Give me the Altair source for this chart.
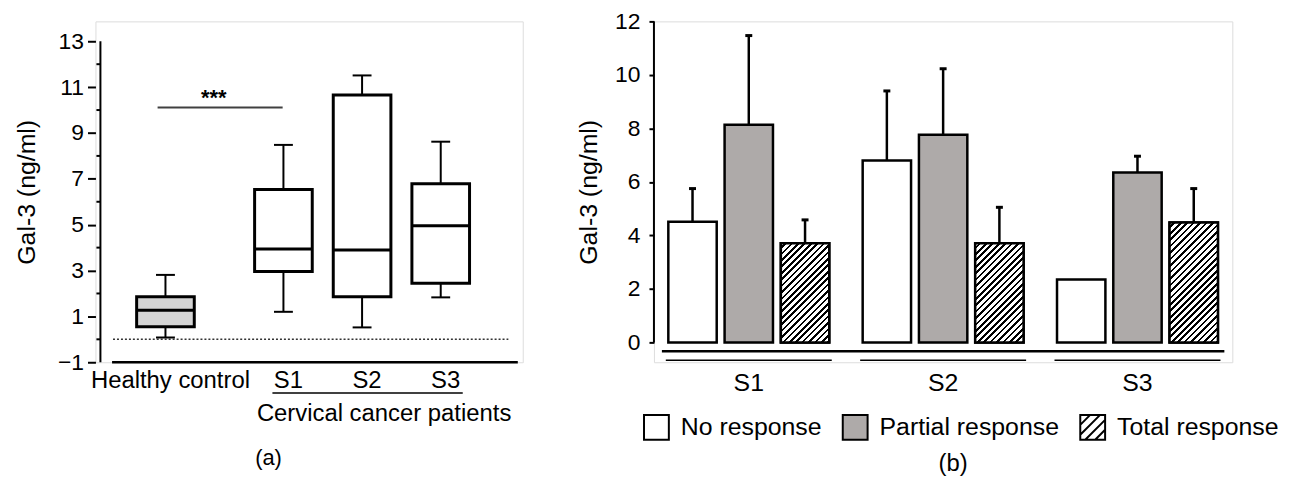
import altair as alt
import pandas as pd

FONT = "Liberation Sans"
GRAY = "#aeaaa9"
LIGHT = "#d4d4d4"

# ---------------- data : panel (a) box-plot statistics (ng/ml) ----------------
groups_a = ["Healthy control", "S1", "S2", "S3"]
kind_a = ["control", "patient", "patient", "patient"]
whisker_low = [0.08, 1.20, 0.52, 1.83]
quart1 = [0.55, 2.96, 1.86, 2.45]
medians = [1.27, 3.94, 3.90, 4.95]
quart3 = [1.86, 6.53, 10.66, 6.79]
whisker_high = [2.81, 8.48, 11.51, 8.62]

# ---------------- data : panel (b) mean + SD (ng/ml) ----------------
stages = ["S1", "S2", "S3"]
responses = ["No response", "Partial response", "Total response"]
mean_no = [4.51, 6.80, 2.35]
mean_partial = [8.14, 7.76, 6.35]
mean_total = [3.71, 3.71, 4.48]
sd_no = [1.24, 2.60, None]
sd_partial = [3.33, 2.47, 0.61]
sd_total = [0.87, 1.34, 1.27]

# ---------------- layout ----------------
POS_A = [0.0, 1.5, 2.5, 3.5]          # category slots on panel (a)
XA = [-0.827, 4.48]
YA = [-1, 13.867]
YB = [-0.742, 12]
W_A, W_B, H = 430, 582, 343
PI, PO = 0.172, 0.074                 # outer band paddings (b)
PI_O = 0.14                           # inner band padding (b)

df_a = pd.DataFrame({
    "group": groups_a, "pos": POS_A, "kind": kind_a,
    "wmin": whisker_low, "q1": quart1, "med": medians,
    "q3": quart3, "wmax": whisker_high,
})

rows = []
for means, sds, r in [(mean_no, sd_no, responses[0]),
                      (mean_partial, sd_partial, responses[1]),
                      (mean_total, sd_total, responses[2])]:
    for s, m, sd in zip(stages, means, sds):
        rows.append({"stage": s, "response": r, "mean": m,
                     "upper": (m + sd) if sd is not None else None})
df_b = pd.DataFrame(rows)
df_err = df_b.dropna(subset=["upper"])

# ---------------- panel (a) ----------------
xa = alt.Scale(domain=XA, nice=False, zero=False)
ya = alt.Scale(domain=YA, nice=False, zero=False)
y_axis_a = alt.Axis(values=[-1, 1, 3, 5, 7, 9, 11, 13], domain=False, grid=False,
                    tickSize=8, tickWidth=2, tickColor="black",
                    labelFont=FONT, labelFontSize=23, labelColor="black", labelPadding=4,
                    title="Gal-3 (ng/ml)", titleFont=FONT, titleFontSize=25,
                    titleFontWeight="normal", titleColor="black", titlePadding=18)


def XAx(f):
    return alt.X(f, scale=xa, axis=None)


def YAx(f):
    return alt.Y(f, scale=ya, axis=y_axis_a)


base_a = alt.Chart(df_a)
wh_hi = base_a.mark_rule(color="black", strokeWidth=2).encode(x=XAx("pos:Q"), y=YAx("q3:Q"), y2="wmax:Q")
wh_lo = base_a.mark_rule(color="black", strokeWidth=2).encode(x=XAx("pos:Q"), y=YAx("wmin:Q"), y2="q1:Q")
cap_hi = base_a.mark_tick(orient="horizontal", size=19, thickness=2, color="black", opacity=1).encode(
    x=XAx("pos:Q"), y=YAx("wmax:Q"))
cap_lo = base_a.mark_tick(orient="horizontal", size=19, thickness=2, color="black", opacity=1).encode(
    x=XAx("pos:Q"), y=YAx("wmin:Q"))
boxes = base_a.mark_bar(size=58, stroke="black", strokeWidth=3).encode(
    x=XAx("pos:Q"), y=YAx("q1:Q"), y2="q3:Q",
    fill=alt.Fill("kind:N", scale=alt.Scale(domain=["control", "patient"], range=[LIGHT, "white"]), legend=None))
meds = base_a.mark_tick(orient="horizontal", size=58, thickness=3, color="black", opacity=1).encode(
    x=XAx("pos:Q"), y=YAx("med:Q"))

# axis line and minor ticks
axis_a = alt.Chart(pd.DataFrame({"x": [XA[0]], "y": [-1], "y2": [13]})).mark_rule(
    color="black", strokeWidth=2).encode(x=XAx("x:Q"), y=YAx("y:Q"), y2="y2:Q")
minor_a = alt.Chart(pd.DataFrame({"x": [XA[0]] * 7, "v": [0, 2, 4, 6, 8, 10, 12]})).mark_tick(
    orient="horizontal", size=4, thickness=2, color="black", opacity=1, xOffset=-2).encode(
    x=XAx("x:Q"), y=YAx("v:Q"))

# horizontal decoration lines (data coordinates)
zero_line = alt.Chart(pd.DataFrame({"x": [-0.667], "x2": [4.36], "y": [0]})).mark_rule(
    color="#333333", strokeWidth=1.5, strokeDash=[2, 2]).encode(x=XAx("x:Q"), x2="x2:Q", y=YAx("y:Q"))
bottom_line = alt.Chart(pd.DataFrame({"x": [-0.679], "x2": [4.48], "y": [-1]})).mark_rule(
    color="black", strokeWidth=2.5).encode(x=XAx("x:Q"), x2="x2:Q", y=YAx("y:Q"))
under_line = alt.Chart(pd.DataFrame({"x": [1.36], "x2": [3.78], "y": [-2.34]})).mark_rule(
    color="black", strokeWidth=1.5).encode(x=XAx("x:Q"), x2="x2:Q", y=YAx("y:Q"))
sig_line = alt.Chart(pd.DataFrame({"x": [-0.1], "x2": [1.49], "y": [10.11]})).mark_rule(
    color="#404040", strokeWidth=2).encode(x=XAx("x:Q"), x2="x2:Q", y=YAx("y:Q"))

labels_a = alt.Chart(pd.DataFrame({"t": groups_a, "pos": POS_A, "y": [-2.13] * 4})).mark_text(
    font=FONT, fontSize=24, color="black", baseline="alphabetic", dx=5).encode(
    x=XAx("pos:Q"), y=YAx("y:Q"), text="t:N")
notes_a = alt.Chart(pd.DataFrame({"t": ["Cervical cancer patients", "(a)"], "x": [2.78, 1.31],
                                  "y": [-3.56, -5.5], "fs": [24, 22]})).mark_text(
    font=FONT, color="black", baseline="alphabetic").encode(
    x=XAx("x:Q"), y=YAx("y:Q"), text="t:N", size=alt.Size("fs:Q", scale=None))
stars = alt.Chart(pd.DataFrame({"t": ["***"], "x": [0.614], "y": [10.24]})).mark_text(
    font=FONT, fontSize=22, fontWeight="bold", color="black", baseline="alphabetic").encode(
    x=XAx("x:Q"), y=YAx("y:Q"), text="t:N")

left = alt.layer(axis_a, minor_a, zero_line, bottom_line, under_line, sig_line,
                 wh_hi, wh_lo, cap_hi, cap_lo, boxes, meds, labels_a, notes_a, stars
                 ).properties(width=W_A, height=H)

# ---------------- panel (b) ----------------
yb = alt.Scale(domain=YB, nice=False, zero=False)
y_axis_b = alt.Axis(values=[0, 2, 4, 6, 8, 10, 12], domain=False, grid=False,
                    tickSize=5, tickWidth=2, tickColor="black",
                    labelFont=FONT, labelFontSize=23, labelColor="black", labelPadding=9,
                    title="Gal-3 (ng/ml)", titleFont=FONT, titleFontSize=25,
                    titleFontWeight="normal", titleColor="black", titlePadding=13)
x_axis_b = alt.Axis(title=None, domain=False, ticks=False, tickSize=0, labelAngle=0,
                    labelFont=FONT, labelFontSize=25, labelColor="black", labelPadding=8)
X_B = alt.X("stage:N", scale=alt.Scale(domain=stages, paddingInner=PI, paddingOuter=PO), axis=x_axis_b)
XO_B = alt.XOffset("response:N", scale=alt.Scale(domain=responses, paddingInner=PI_O, paddingOuter=0))


def YB_(f):
    return alt.Y(f, scale=yb, axis=y_axis_b)


SQ = "M-1,-1H1V1H-1Z"
HATCH = SQ + " M-1,-0.2L-0.2,-1 M-1,0.6L0.6,-1 M-0.6,1L1,-0.6 M0.2,1L1,0.2"
fill_scale = alt.Scale(domain=responses, range=["white", GRAY, "white"])
shape_scale = alt.Scale(domain=responses, range=[SQ, SQ, HATCH])
legend_b = alt.Legend(title=None, orient="none", legendX=-11, legendY=395, direction="horizontal",
                      symbolSize=625, symbolStrokeWidth=2,
                      symbolOpacity=1, labelFont=FONT, labelFontSize=25, labelColor="black",
                      labelOffset=11, columnPadding=17, padding=0, labelLimit=400)

# bar pixel geometry (for the hatch gradient)
step = W_B / (3 - PI + 2 * PO)
band = step * (1 - PI)
bar_w = band / (3 - PI_O) * (1 - PI_O)
px_per_unit = H / (YB[1] - YB[0])


def hatch(w, h, period=6.4, ink=0.42):
    n = max(1, round((w + h) / period))
    stops = []
    for k in range(n):
        a, b, c = k / n, (k + 1 - ink) / n, (k + 1) / n
        stops += [{"offset": round(a, 5), "color": "white"},
                  {"offset": round(b, 5), "color": "white"},
                  {"offset": round(b, 5), "color": "black"},
                  {"offset": round(c, 5), "color": "black"}]
    lam = (w + h) / (w * w + h * h)
    return {"gradient": "linear", "x1": 0, "y1": 0, "x2": round(w * lam, 5),
            "y2": round(h * lam, 5), "stops": stops}


base_b = alt.Chart(df_b)
# legend carrier: points placed outside the (clipped) plot so only the legend shows
legend_pts = base_b.transform_calculate(hidden="-50").mark_point(
    filled=True, stroke="black", strokeWidth=2, size=20, clip=True).encode(
    x=X_B, xOffset=XO_B, y=YB_("hidden:Q"),
    fill=alt.Fill("response:N", scale=fill_scale, legend=legend_b),
    shape=alt.Shape("response:N", scale=shape_scale, legend=legend_b))
bars = base_b.mark_bar(stroke="black", strokeWidth=2.5).encode(
    x=X_B, xOffset=XO_B, y=YB_("mean:Q"), y2=alt.Y2Datum(0),
    fill=alt.Fill("response:N", scale=fill_scale, legend=legend_b))
hatch_layers = []
for s, m in zip(stages, mean_total):
    hatch_layers.append(
        base_b.transform_filter(f"datum.stage == '{s}' && datum.response == 'Total response'")
        .mark_bar(fill=hatch(bar_w, m * px_per_unit), stroke="black", strokeWidth=2.5)
        .encode(x=X_B, xOffset=XO_B, y=YB_("mean:Q"), y2=alt.Y2Datum(0)))
err = alt.Chart(df_err).mark_rule(color="black", strokeWidth=2.5).encode(
    x=X_B, xOffset=XO_B, y=YB_("mean:Q"), y2="upper:Q")
caps = alt.Chart(df_err).mark_tick(orient="horizontal", size=7, thickness=3, color="black", opacity=1).encode(
    x=X_B, xOffset=XO_B, y=YB_("upper:Q"))

axis_b = alt.Chart(pd.DataFrame({"y": [0], "y2": [12]})).mark_rule(color="black", strokeWidth=2).encode(
    x=alt.value(0), y=YB_("y:Q"), y2="y2:Q")
long_line = alt.Chart(pd.DataFrame({"stage": ["S2"], "y": [-0.334]})).mark_tick(
    orient="horizontal", size=566, thickness=2.5, color="black", opacity=1).encode(x=X_B, y=YB_("y:Q"))
group_lines = alt.Chart(pd.DataFrame({"stage": stages, "y": [-0.668] * 3})).mark_tick(
    orient="horizontal", size=167, thickness=1.5, color="black", opacity=1).encode(x=X_B, y=YB_("y:Q"))
label_b = alt.Chart(pd.DataFrame({"stage": ["S2"], "t": ["(b)"], "y": [-4.8]})).mark_text(
    font=FONT, fontSize=24, color="black", baseline="alphabetic", dx=10).encode(
    x=X_B, y=YB_("y:Q"), text="t:N")

right = alt.layer(legend_pts, bars, *hatch_layers, err, caps, axis_b, long_line, group_lines, label_b
                  ).properties(width=W_B, height=H)

chart = alt.hconcat(left, right, spacing=132, bounds="flush").resolve_scale(
    fill="independent", shape="independent", x="independent", y="independent"
).resolve_legend(fill="independent", shape="independent").properties(
    padding={"left": 6, "top": 0, "right": 2, "bottom": 0}
).configure_view(stroke=None).configure(font=FONT)

chart.save("out.html", embed_options={"renderer": "svg", "actions": False})
